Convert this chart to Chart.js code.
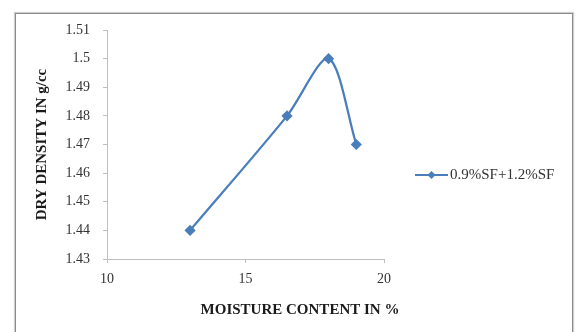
<!DOCTYPE html>
<html><head><meta charset="utf-8">
<script src="https://cdn.jsdelivr.net/npm/chart.js@4"></script>
<style>
html,body{margin:0;padding:0;background:#fff;}
#wrap{position:relative;width:577px;height:332px;overflow:hidden;background:#fff;}
#frame{position:absolute;left:15px;top:13px;width:558px;height:340px;box-sizing:border-box;border:1px solid #8a8a8a;box-shadow:0 0 1px 1px #cfcfcf;}
canvas{position:absolute;left:0;top:0;}
</style></head><body>
<div id="wrap"><div id="frame"></div><canvas id="c" width="577" height="332"></canvas></div>
<script>
const seriesLabel = '0.9%SF+1.2%SF';
const moisture = [13, 16.5, 18, 19];
const dryDensity = [1.44, 1.48, 1.50, 1.47];
const xTicks = [10, 15, 20];
const yTicks = [1.43, 1.44, 1.45, 1.46, 1.47, 1.48, 1.49, 1.5, 1.51];
const xTitle = 'MOISTURE CONTENT IN %';
const yTitle = 'DRY DENSITY IN g/cc';

const SERIF = '"Liberation Serif", "Times New Roman", serif';
const lineColor = '#4a7ebb';

const xTitlePlugin = {
  id: 'xTitlePlugin',
  afterDraw(chart) {
    const ctx = chart.ctx;
    ctx.save();
    ctx.font = 'bold 15px ' + SERIF;
    ctx.fillStyle = '#1a1a1a';
    ctx.textAlign = 'center';
    ctx.textBaseline = 'middle';
    ctx.fillText(xTitle, 300, 310);
    ctx.restore();
  }
};

const legendPlugin = {
  id: 'legendPlugin',
  afterDraw(chart) {
    const ctx = chart.ctx;
    const ds = chart.data.datasets[0];
    const y = 175;
    ctx.save();
    ctx.strokeStyle = ds.borderColor;
    ctx.lineWidth = 2;
    ctx.beginPath();
    ctx.moveTo(415, y);
    ctx.lineTo(448, y);
    ctx.stroke();
    ctx.fillStyle = ds.pointBackgroundColor;
    ctx.beginPath();
    ctx.moveTo(431.5, y - 4);
    ctx.lineTo(435.5, y);
    ctx.lineTo(431.5, y + 4);
    ctx.lineTo(427.5, y);
    ctx.closePath();
    ctx.fill();
    ctx.font = '15px ' + SERIF;
    ctx.fillStyle = '#333';
    ctx.textAlign = 'left';
    ctx.textBaseline = 'middle';
    ctx.fillText(ds.label, 450, y);
    ctx.restore();
  }
};

new Chart(document.getElementById('c'), {
  type: 'line',
  data: {
    datasets: [{
      label: seriesLabel,
      data: moisture.map((x, i) => ({x: x, y: dryDensity[i]})),
      borderColor: lineColor,
      borderWidth: 2.25,
      pointStyle: 'rectRot',
      pointRadius: 4,
      pointBackgroundColor: lineColor,
      pointBorderColor: lineColor,
      tension: 0.3,
      fill: false,
      clip: false
    }]
  },
  options: {
    responsive: false,
    animation: false,
    devicePixelRatio: 1,
    layout: {padding: {left: 0, top: 30, right: 193, bottom: 0}},
    plugins: {legend: {display: false}, tooltip: {enabled: false}},
    scales: {
      x: {
        type: 'linear',
        min: 10, max: 20,
        afterBuildTicks: s => { s.ticks = xTicks.map(v => ({value: v})); },
        afterFit: s => { s.height = 73; },
        grid: {drawOnChartArea: false, drawTicks: true, tickLength: 4, color: '#bfbfbf'},
        border: {color: '#bfbfbf', width: 1},
        ticks: {font: {family: SERIF, size: 14}, color: '#333', padding: 8, maxRotation: 0,
          callback: v => String(v)}
      },
      y: {
        min: 1.43, max: 1.51,
        afterBuildTicks: s => { s.ticks = yTicks.map(v => ({value: v})); },
        afterFit: s => { s.width = 107; },
        grid: {drawOnChartArea: false, drawTicks: true, tickLength: 4, color: '#bfbfbf'},
        border: {color: '#bfbfbf', width: 1},
        ticks: {font: {family: SERIF, size: 14}, color: '#333', padding: 13,
          callback: v => String(v)},
        title: {display: true, text: yTitle, font: {family: SERIF, size: 15, weight: 'bold'},
          color: '#1a1a1a', padding: {top: 33, bottom: 0}}
      }
    }
  },
  plugins: [xTitlePlugin, legendPlugin]
});
</script>
</body></html>
